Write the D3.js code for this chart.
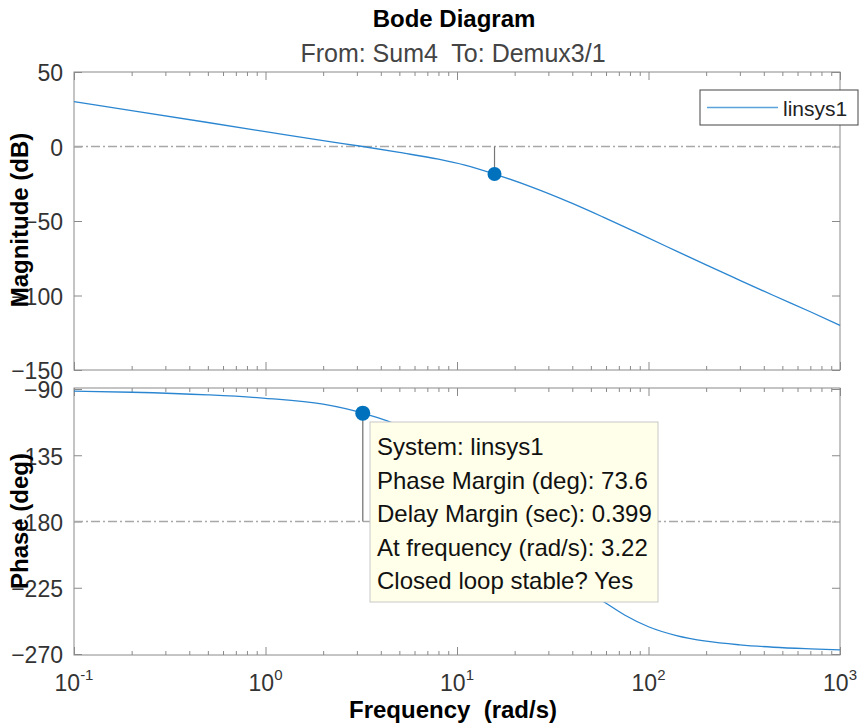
<!DOCTYPE html>
<html>
<head>
<meta charset="utf-8">
<title>Bode Diagram</title>
<script src="https://d3js.org/d3.v7.min.js"></script>
<style>
    body {
        margin: 0;
        padding: 0;
        background: white;
    }
    svg text {
        font-family: "Liberation Sans", Arial, sans-serif;
    }
</style>
</head>
<body>
<svg id="chart" width="861" height="728"></svg>
<script>
    // values
    var magFreq = [0.1, 0.2, 0.5, 1, 2, 3.22, 5, 8, 11, 15.7, 25, 40, 58, 90, 140, 200, 300, 450, 700, 1000];
    var magDb = [30.1, 24.1, 16.1, 10.0, 3.9, 0, -4.0, -8.5, -12.5, -18.5, -27.6, -38.2, -47.4, -58.7, -70.2, -79.5, -89.8, -100.0, -110.9, -120.0];

    var phaseFreq = [0.1, 0.2, 0.5, 1, 2, 3.22, 5, 8, 11, 15.7, 25, 40, 58, 75, 100, 140, 200, 300, 450, 700, 1000];
    var phaseDeg = [-91.5, -92.2, -94.0, -96.3, -100.3, -106.4, -115, -132, -152, -180, -205, -222, -234.3, -243.5, -251.5, -257.5, -261.3, -263.8, -265.4, -266.5, -267.2];

    var magTicks = [50, 0, -50, -100, -150];
    var phaseTicks = [-90, -135, -180, -225, -270];
    var decades = [0.1, 1, 10, 100, 1000];
    var decadeExp = ["-1", "0", "1", "2", "3"];

    // margins (from the data tip)
    var crossFreq = 3.22;
    var phaseMargin = 73.6;
    var gainCrossFreq = 15.7;
    var gainAtCross = -18.5;
    var tipLines = ["System: linsys1", "Phase Margin (deg): 73.6", "Delay Margin (sec): 0.399",
                    "At frequency (rad/s): 3.22", "Closed loop stable? Yes"];

    var svg = d3.select("#chart");
    var boxColor = "#8a8a8a";
    var lineColor = "#2b86d1";

    var x = d3.scaleLog().domain([0.1, 1000]).range([74, 840]);
    var yMag = d3.scaleLinear().domain([-150, 50]).range([370, 72]);
    var yPh = d3.scaleLinear().domain([-270, -90]).range([654, 389]);

    var minors = x.ticks().filter(function(d) { return decades.indexOf(d) < 0; });

    function drawFrame(top, bottom, y, ticks, fmt) {
        var g = svg.append("g");
        var bits = [
            [d3.axisBottom(x).tickValues(minors).tickSize(-4), bottom],
            [d3.axisBottom(x).tickValues(decades).tickSize(-8), bottom],
            [d3.axisTop(x).tickValues(minors).tickSize(-4), top],
            [d3.axisTop(x).tickValues(decades).tickSize(-8), top]
        ];
        bits.forEach(function(b) {
            var a = g.append("g").attr("transform", "translate(0," + b[1] + ")")
                .call(b[0].tickFormat(""));
            a.select(".domain").remove();
        });
        var left = g.append("g").attr("transform", "translate(74,0)")
            .call(d3.axisLeft(y).tickValues(ticks).tickSize(-8).tickPadding(11).tickFormat(fmt));
        left.select(".domain").remove();
        left.selectAll("text")
            .attr("font-size", 23)
            .attr("fill", "#333")
            .attr("dy", "0.38em")
            .attr("font-family", "Liberation Sans, Arial, sans-serif");
        var right = g.append("g").attr("transform", "translate(840,0)")
            .call(d3.axisRight(y).tickValues(ticks).tickSize(-8).tickFormat(""));
        right.select(".domain").remove();
        g.selectAll(".tick line").attr("stroke", boxColor);
        g.append("rect")
            .attr("x", 74).attr("y", top)
            .attr("width", 766).attr("height", bottom - top)
            .attr("fill", "none")
            .attr("stroke", boxColor);
    }

    drawFrame(72, 370, yMag, magTicks, d3.format("d"));
    drawFrame(388, 655, yPh, phaseTicks, d3.format("d"));

    // 0 dB and -180 deg reference lines
    function refLine(yv) {
        svg.append("line")
            .attr("x1", 74).attr("x2", 840)
            .attr("y1", yv).attr("y2", yv)
            .attr("stroke", "#a8a8a8")
            .attr("stroke-width", 1.5)
            .attr("stroke-dasharray", "9,3,2,3");
    }
    refLine(yMag(0));
    refLine(yPh(-180));

    var magLine = d3.line()
        .x(function(d, i) { return x(magFreq[i]); })
        .y(function(d) { return yMag(d); })
        .curve(d3.curveMonotoneX);
    var phLine = d3.line()
        .x(function(d, i) { return x(phaseFreq[i]); })
        .y(function(d) { return yPh(d); })
        .curve(d3.curveMonotoneX);

    svg.append("path").attr("d", magLine(magDb))
        .attr("fill", "none").attr("stroke", lineColor).attr("stroke-width", 1.3);
    svg.append("path").attr("d", phLine(phaseDeg))
        .attr("fill", "none").attr("stroke", lineColor).attr("stroke-width", 1.3);

    // margin markers
    var pmPhase = -180 + phaseMargin;
    svg.append("line")
        .attr("x1", x(gainCrossFreq)).attr("x2", x(gainCrossFreq))
        .attr("y1", yMag(0)).attr("y2", yMag(gainAtCross))
        .attr("stroke", "#777").attr("stroke-width", 1.2);
    svg.append("line")
        .attr("x1", x(crossFreq)).attr("x2", x(crossFreq))
        .attr("y1", yPh(-180)).attr("y2", yPh(pmPhase))
        .attr("stroke", "#8a8a8a").attr("stroke-width", 1.5);
    svg.append("circle")
        .attr("cx", x(gainCrossFreq)).attr("cy", yMag(gainAtCross)).attr("r", 7)
        .attr("fill", "#0072BD");
    svg.append("circle")
        .attr("cx", x(crossFreq)).attr("cy", yPh(pmPhase)).attr("r", 7.5)
        .attr("fill", "#0072BD");

    // data tip
    svg.append("rect")
        .attr("x", 370).attr("y", 422)
        .attr("width", 288).attr("height", 180)
        .attr("fill", "#ffffea")
        .attr("stroke", "#c8c8c8");
    svg.selectAll(".tip").data(tipLines).enter().append("text")
        .attr("x", 377)
        .attr("y", function(d, i) { return 455 + i * 33.6; })
        .attr("font-size", 24)
        .attr("fill", "#111")
        .text(function(d) { return d; });

    // legend
    svg.append("rect")
        .attr("x", 700).attr("y", 90).attr("width", 158).attr("height", 35)
        .attr("fill", "white").attr("stroke", "#444");
    svg.append("line")
        .attr("x1", 707).attr("x2", 778).attr("y1", 107.5).attr("y2", 107.5)
        .attr("stroke", "#5aa3dc").attr("stroke-width", 1.5);
    svg.append("text")
        .attr("x", 783).attr("y", 116)
        .attr("font-size", 21).attr("fill", "#222")
        .text("linsys1");

    // x tick labels with exponents
    decades.forEach(function(d, i) {
        var t = svg.append("text")
            .attr("x", x(d)).attr("y", 691)
            .attr("text-anchor", "middle")
            .attr("font-size", 23)
            .attr("fill", "#333");
        t.append("tspan").text("10");
        t.append("tspan").attr("dy", -11).attr("font-size", 15).text(decadeExp[i]);
    });

    // titles
    svg.append("text")
        .attr("x", 454).attr("y", 27)
        .attr("text-anchor", "middle")
        .attr("font-size", 24).attr("font-weight", "bold")
        .text("Bode Diagram");
    svg.append("text")
        .attr("x", 453).attr("y", 62)
        .attr("text-anchor", "middle")
        .attr("font-size", 25).attr("fill", "#444")
        .style("white-space", "pre")
        .text("From: Sum4  To: Demux3/1");
    svg.append("text")
        .attr("x", 453).attr("y", 718)
        .attr("text-anchor", "middle")
        .attr("font-size", 24).attr("font-weight", "bold")
        .style("white-space", "pre")
        .text("Frequency  (rad/s)");
    svg.append("text")
        .attr("transform", "translate(28,220) rotate(-90)")
        .attr("text-anchor", "middle")
        .attr("font-size", 24).attr("font-weight", "bold")
        .text("Magnitude (dB)");
    svg.append("text")
        .attr("transform", "translate(28,521) rotate(-90)")
        .attr("text-anchor", "middle")
        .attr("font-size", 24).attr("font-weight", "bold")
        .text("Phase (deg)");
</script>
</body>
</html>
